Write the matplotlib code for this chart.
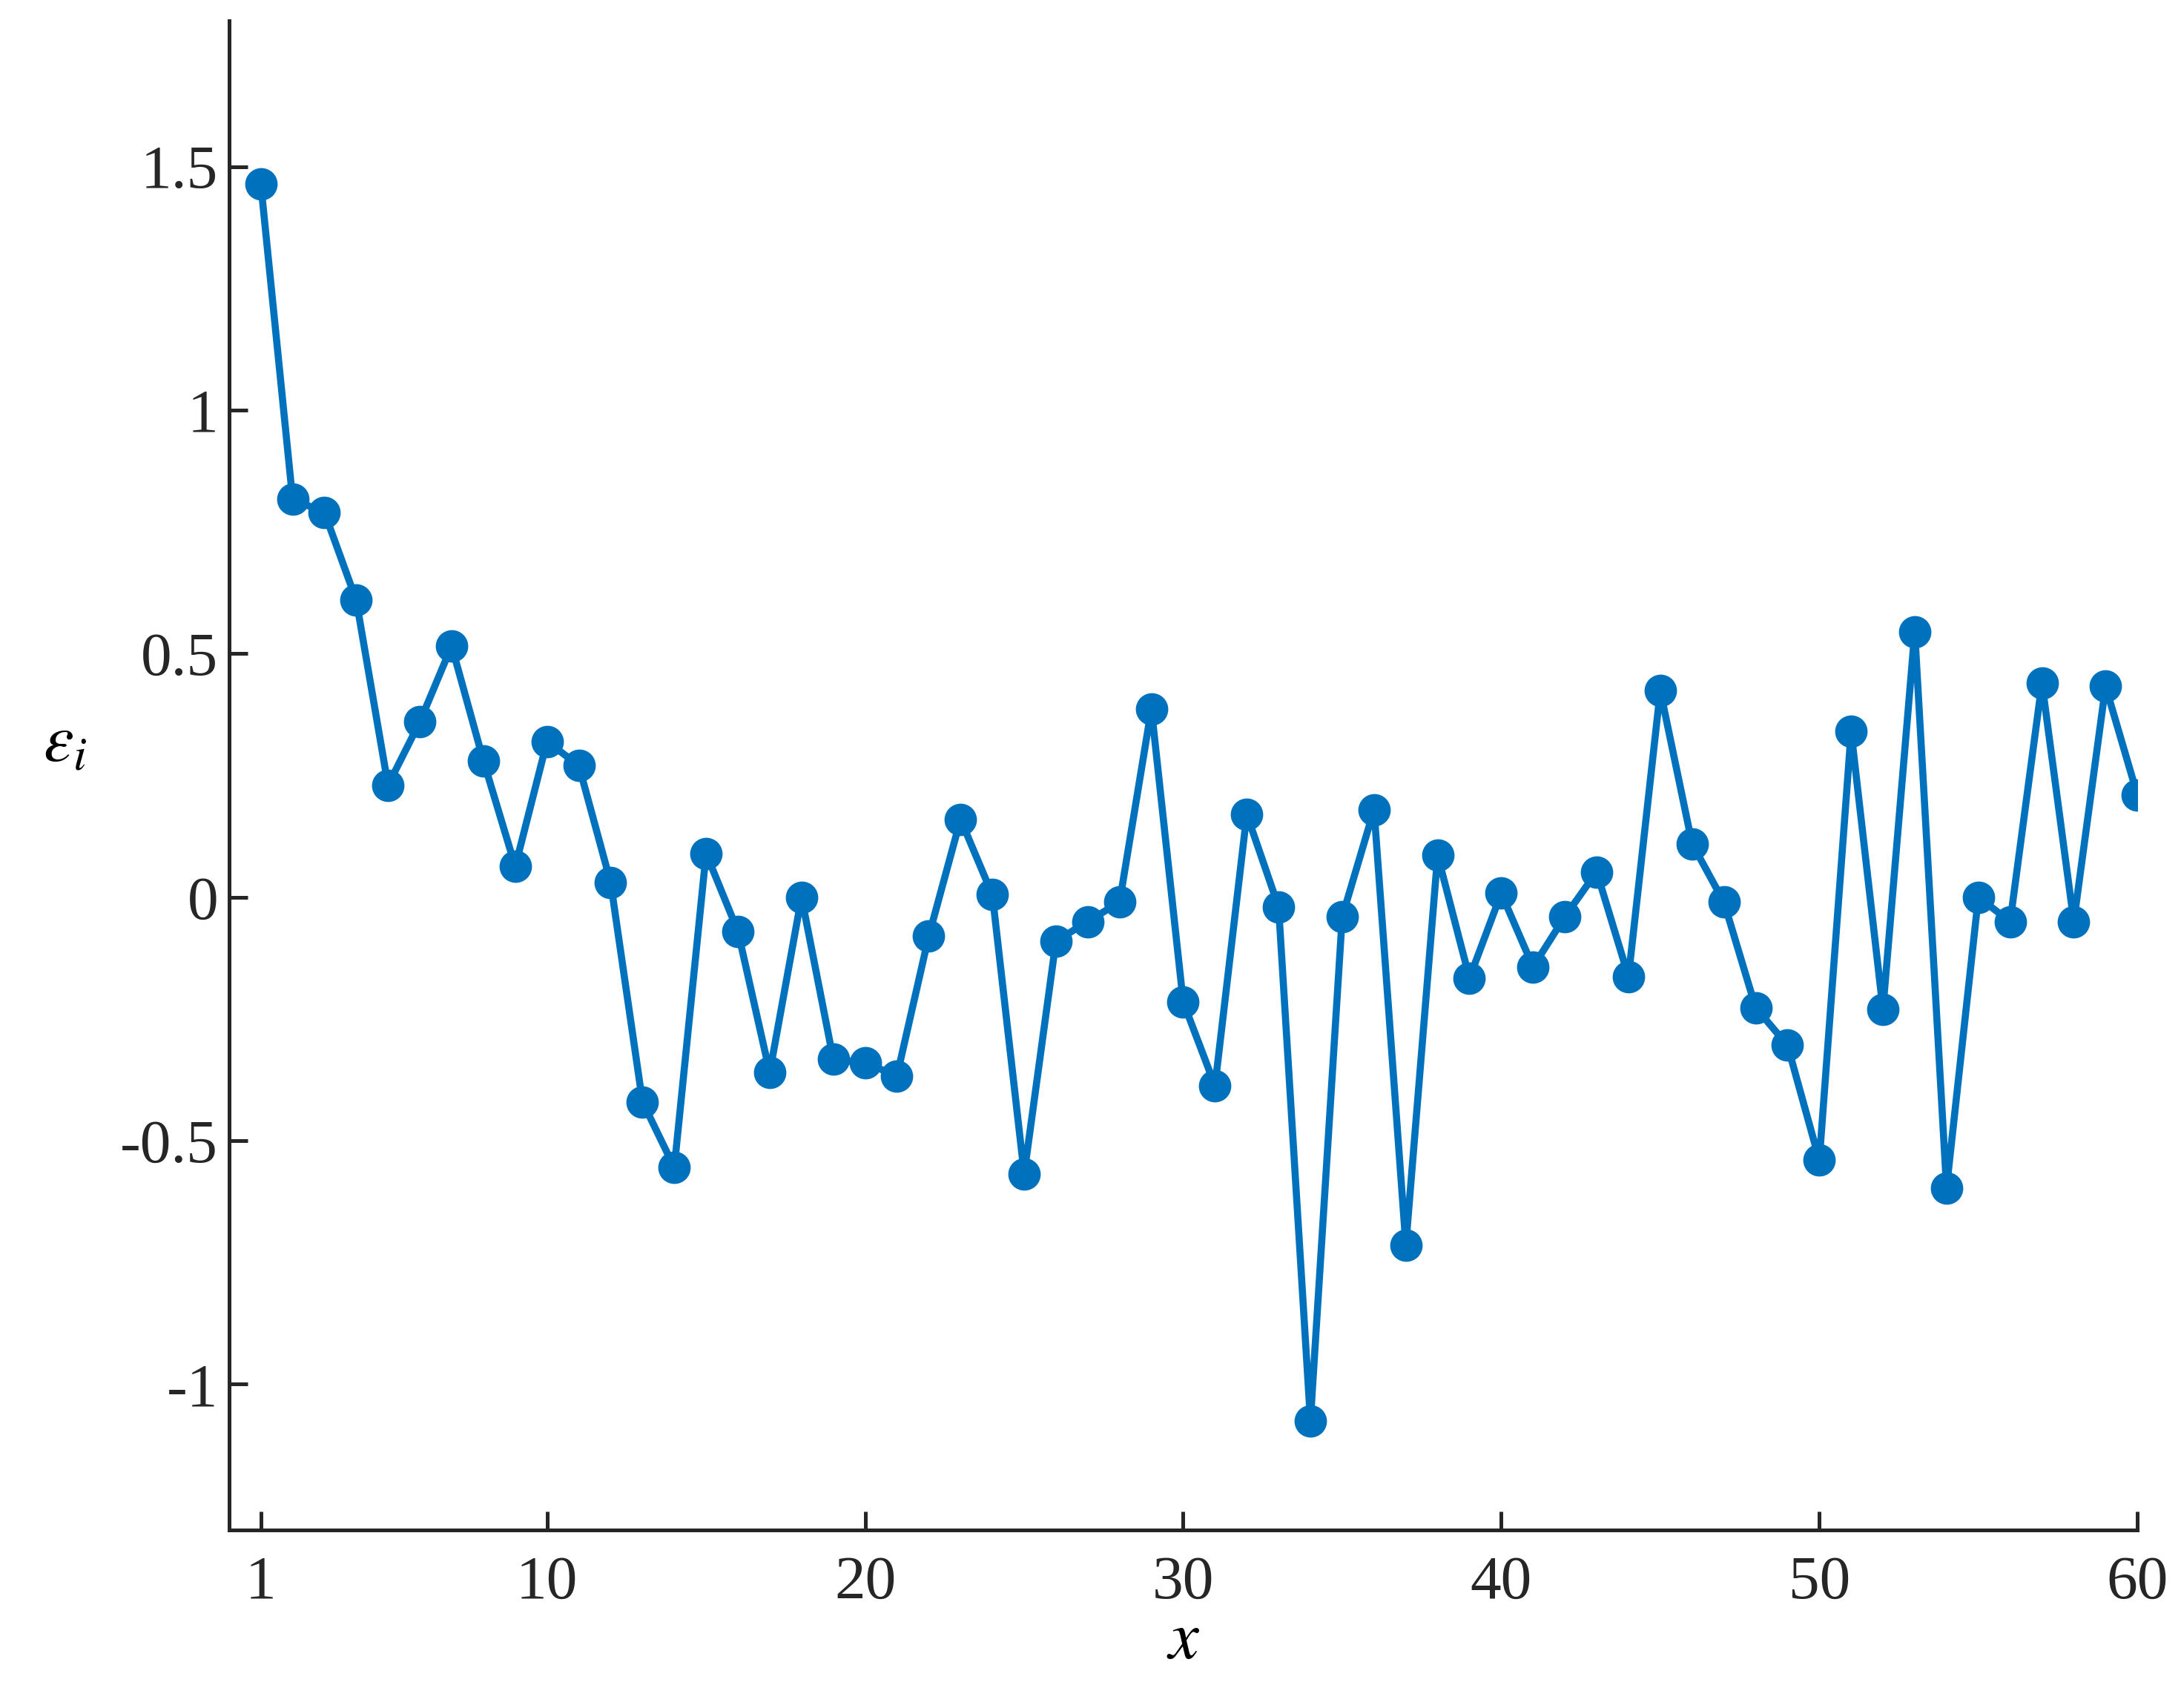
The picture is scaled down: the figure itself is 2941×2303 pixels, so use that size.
import numpy as np
import matplotlib
matplotlib.use("Agg")
import matplotlib.pyplot as plt

# === Data ===
x = np.arange(1, 61)
eps = [1.465, 0.817, 0.79, 0.61, 0.23, 0.36, 0.516, 0.28, 0.063, 0.32,
       0.27, 0.03, -0.42, -0.555, 0.09, -0.07, -0.36, 0.0, -0.333, -0.34,
       -0.367, -0.08, 0.16, 0.005, -0.568, -0.09, -0.05, -0.01, 0.387, -0.215,
       -0.387, 0.17, -0.02, -1.075, -0.04, 0.18, -0.714, 0.086, -0.166, 0.008,
       -0.143, -0.04, 0.052, -0.163, 0.424, 0.11, -0.01, -0.227, -0.304, -0.54,
       0.34, -0.23, 0.545, -0.597, 0.0, -0.05, 0.44, -0.05, 0.433, 0.21]
xticks = [1, 10, 20, 30, 40, 50, 60]
yticks = [-1, -0.5, 0, 0.5, 1, 1.5]
yticklabels = ["-1", "-0.5", "0", "0.5", "1", "1.5"]

plt.rcParams['font.family'] = ['Liberation Serif', 'DejaVu Serif']
plt.rcParams['mathtext.fontset'] = 'stix'

fig = plt.figure(figsize=(2941 / 300, 2303 / 300), dpi=300)
ax = fig.add_axes([0.105, 0.104, 0.875, 0.884])

ax.plot(x, eps, color='#0072BD', linewidth=2.3, marker='o', markersize=9.5)

ax.set_xlim(0, 60)
ax.set_ylim(-1.3, 1.8)
ax.set_xticks(xticks)
ax.set_yticks(yticks)
ax.set_yticklabels(yticklabels)
ax.tick_params(direction='in', labelsize=20, width=1.2, length=6, colors='#262626')
ax.tick_params(axis='x', pad=8)
for s in ['top', 'right']:
    ax.spines[s].set_visible(False)
for s in ['left', 'bottom']:
    ax.spines[s].set_linewidth(1.2)
    ax.spines[s].set_color('#262626')

ax.set_xlabel(r'$x$', fontsize=22, labelpad=0)
ax.set_ylabel(r'$\varepsilon_i$', fontsize=22, rotation=0, labelpad=18)

fig.savefig("out.png", dpi=300)
